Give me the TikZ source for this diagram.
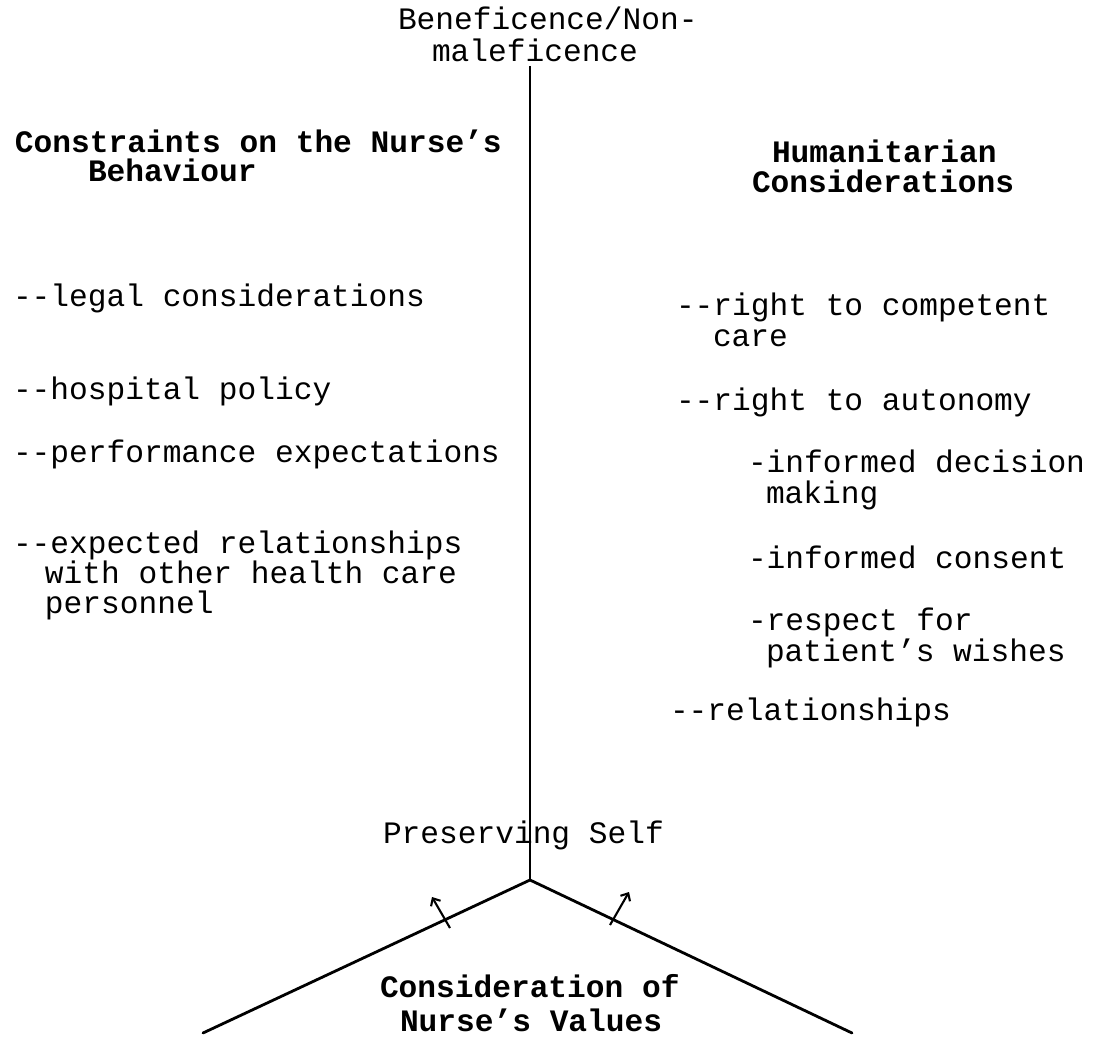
\documentclass[tikz,border=0pt]{standalone}
\usepackage{fontspec}
\setmonofont{Liberation Mono}
\usetikzlibrary{arrows.meta}
\begin{document}
\begin{tikzpicture}[x=1pt,y=-1pt,
  txt/.style={inner sep=0pt, outer sep=0pt, anchor=base west, font=\ttfamily\fontsize{31.2}{31}\selectfont},
  head/.style={txt, font=\ttfamily\bfseries\fontsize{31.2}{31}\selectfont},
  axis/.style={line width=1.7pt},
  wing/.style={line width=2.8pt, line cap=round, line join=miter},
  push/.style={line width=2.1pt, -{Straight Barb[length=6pt,width=11pt]}}]
\useasboundingbox (0,0) rectangle (1096,1038);
% top label
\node[txt] (bene1) at (398,30) {Beneficence/Non-};
\node[txt] (bene2) at (432,62) {maleficence};
% headings
\node[head] (con1) at (15,153) {Constraints on the Nurse’s};
\node[head] (con2) at (88,182) {Behaviour};
\node[head] (hum1) at (772,163) {Humanitarian};
\node[head] (hum2) at (752,193) {Considerations};
% left list
\node[txt] (legal) at (13,306) {--legal considerations};
\node[txt] (hosp) at (13,399) {--hospital policy};
\node[txt] (perf) at (13,462) {--performance expectations};
\node[txt] (exp1) at (13,553) {--expected relationships};
\node[txt] (exp2) at (45,583) {with other health care};
\node[txt] (exp3) at (45,613) {personnel};
% right list
\node[txt] (comp1) at (676,315) {--right to competent};
\node[txt] (comp2) at (713,346) {care};
\node[txt] (auto) at (676,410) {--right to autonomy};
\node[txt] (dec1) at (748,472) {-informed decision};
\node[txt] (dec2) at (766,503) {making};
\node[txt] (cons) at (748,568) {-informed consent};
\node[txt] (resp1) at (748,630) {-respect for};
\node[txt] (resp2) at (766,661) {patient’s wishes};
\node[txt] (rel) at (670,720) {--relationships};
% bottom
\node[txt] (self) at (383,843) {Preserving Self};
\node[head] (val1) at (380,997) {Consideration of};
\node[head] (val2) at (400,1031) {Nurse’s Values};
% lines
\coordinate (top) at (530,66);
\coordinate (apex) at (530,880);
\coordinate (lend) at (203,1033);
\coordinate (rend) at (852,1033);
\draw[axis] (top) -- (apex);
\draw[wing] (lend) -- (apex) -- (rend);
% small arrows
\coordinate (la0) at (450,928);
\coordinate (la1) at (432,897);
\coordinate (ra0) at (610,925);
\coordinate (ra1) at (629,892);
\draw[push] (la0) -- (la1);
\draw[push] (ra0) -- (ra1);
\end{tikzpicture}
\end{document}
